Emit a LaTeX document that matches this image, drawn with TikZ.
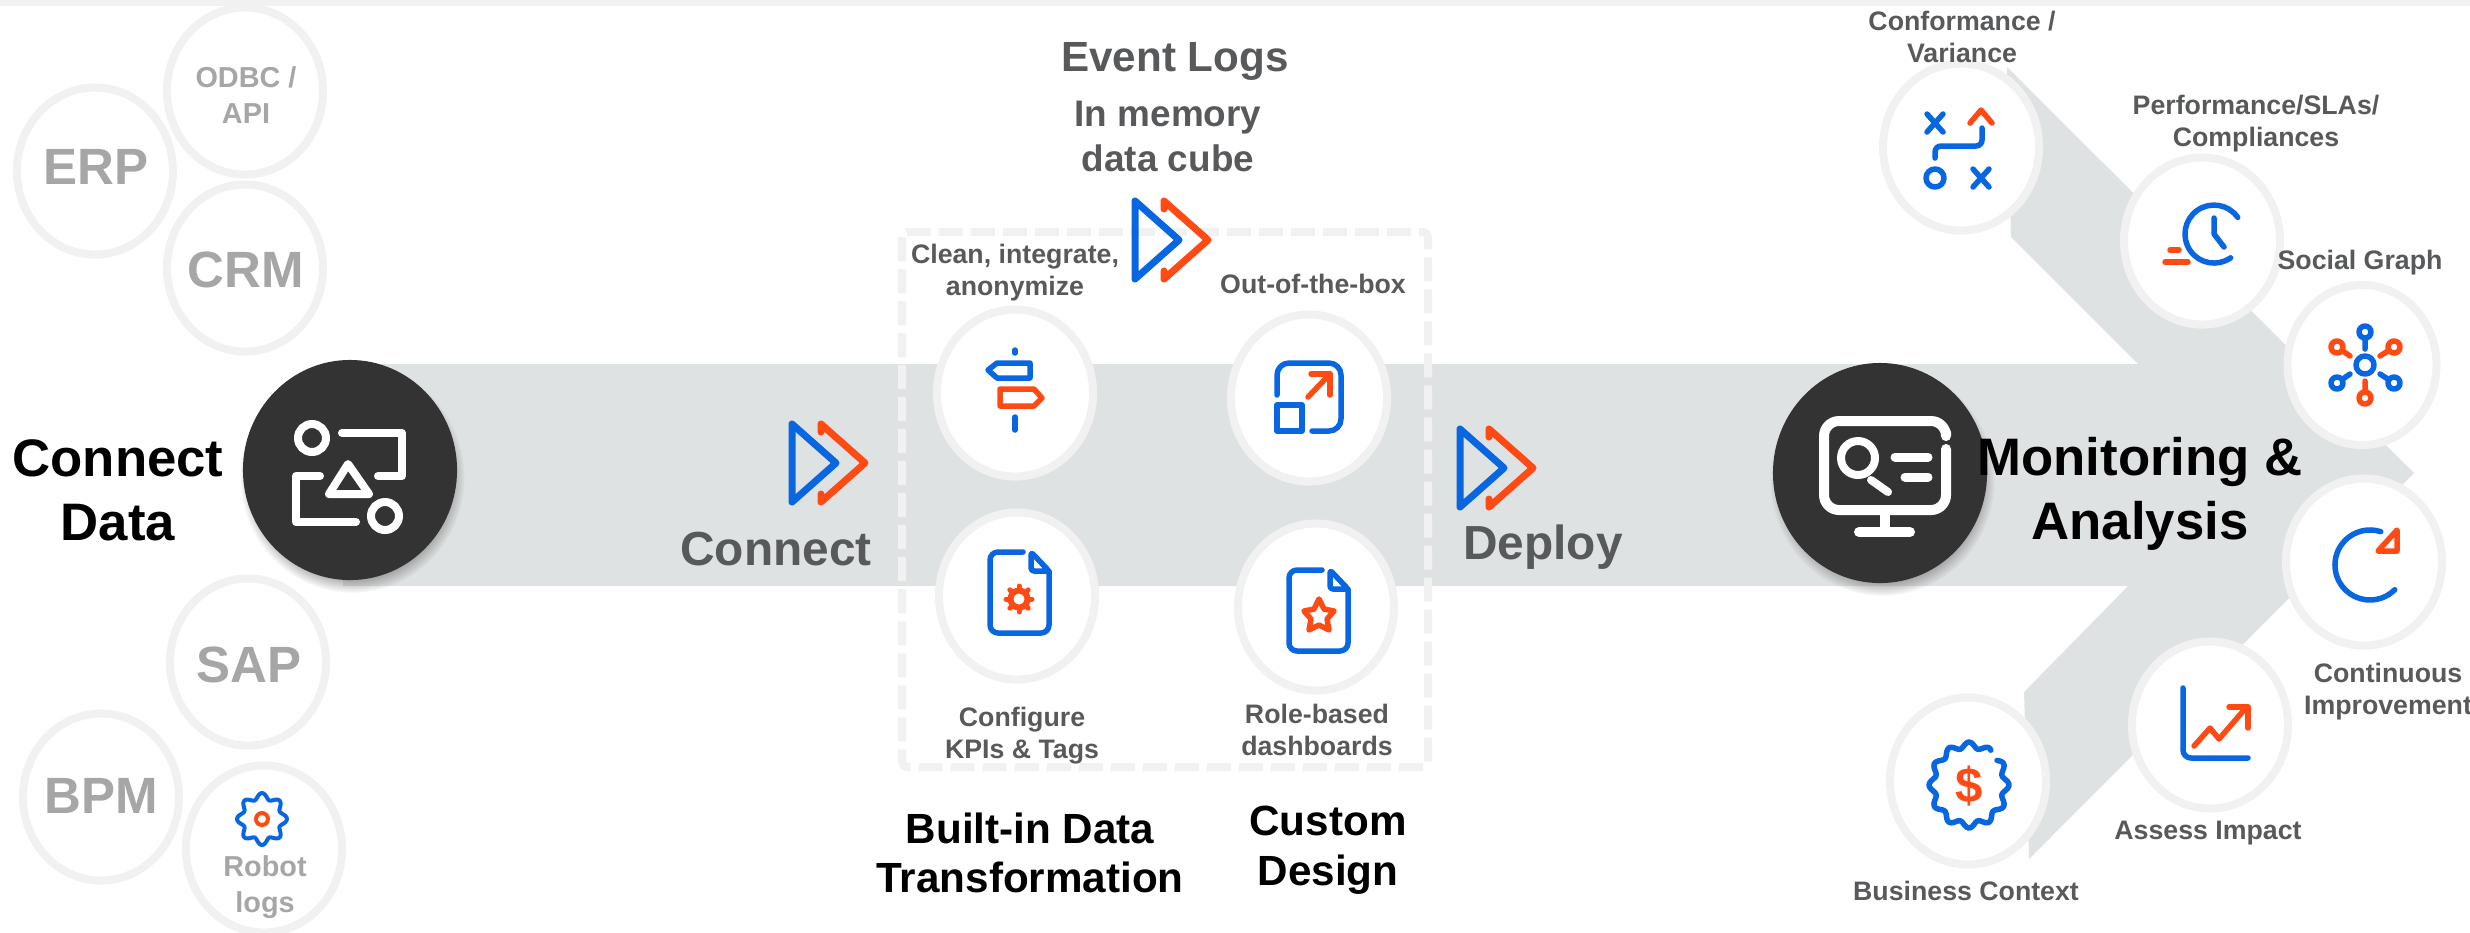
\documentclass[tikz,border=0pt]{standalone}
\usepackage{fontspec}
\setmainfont{Liberation Sans}
\usepackage{tikz}
\usetikzlibrary{calc}
\usetikzlibrary{shadows}
\usetikzlibrary{shapes.geometric}

\definecolor{bandgrey}{HTML}{DFE2E3}
\definecolor{ringgrey}{HTML}{F1F1F1}
\definecolor{darkdisc}{HTML}{333333}
\definecolor{textgrey}{HTML}{58595B}
\definecolor{fadedtext}{HTML}{A6A6A6}
\definecolor{iconblue}{HTML}{0866E0}
\definecolor{iconorange}{HTML}{FF4A14}

\tikzset{
    ring/.style={ellipse, draw=ringgrey, fill=white, line width=0.8mm, minimum width=1.56cm, minimum height=1.67cm, inner sep=0pt},
    disc/.style={ellipse, fill=darkdisc, minimum width=2.14cm, minimum height=2.2cm, inner sep=0pt,
        circular drop shadow={shadow xshift=0.02cm, shadow yshift=-0.07cm, shadow scale=1.05, opacity=0.75}},
    faded/.style={inner sep=0pt, text=fadedtext, font=\fontsize{14.5}{17}\selectfont\bfseries},
    fadedsmall/.style={inner sep=0pt, align=center, text=fadedtext, font=\fontsize{8.2}{10.4}\selectfont\bfseries},
    heading/.style={inner sep=0pt, align=center, text=black, font=\fontsize{15}{18.1}\selectfont\bfseries},
    subheading/.style={inner sep=0pt, align=center, text=black, font=\fontsize{12}{14.1}\selectfont\bfseries},
    greyhead/.style={inner sep=0pt, align=center, text=textgrey, font=\fontsize{13.6}{16}\selectfont\bfseries},
    caption/.style={inner sep=0pt, align=center, text=textgrey, font=\fontsize{7.6}{9.1}\selectfont\bfseries},
    blueline/.style={draw=iconblue, line width=0.55mm, line cap=round, line join=round},
    orangeline/.style={draw=iconorange, line width=0.55mm, line cap=round, line join=round},
    whiteline/.style={draw=white, line width=0.8mm, line cap=round, line join=round},
}

\begin{document}
\begin{tikzpicture}[x=0.01cm, y=-0.01cm]
    \useasboundingbox (0,0) rectangle (2470,932);
    \fill[ringgrey] (0,0) rectangle (2470,6);

    % arrow
    \fill[bandgrey] (343,364) -- (2138,364) -- (2011,237) -- (2007,67) -- (2414,473)
        -- (2029,859) -- (2024,692) -- (2128,586) -- (343,586) -- cycle;

    % box around the transformation step
    \draw[ringgrey, line width=0.8mm, rounded corners=0.5mm, dash pattern=on 0.24cm off 0.08cm] (902,232) rectangle (1428,767);

    % data sources
    \node[ring] (erp) at (95,171) {};
    \node[ring] (odbc) at (245,91) {};
    \node[ring] (crm) at (245,268) {};
    \node[ring] (sap) at (248,662) {};
    \node[ring] (bpm) at (101,797) {};
    \node[ring] (robot) at (264,849) {};
    \node[faded] (erplabel) at (96,167) {ERP};
    \node[fadedsmall] (odbclabel) at (246,95) {ODBC /\\API};
    \node[faded] (crmlabel) at (246,270) {CRM};
    \node[faded] (saplabel) at (249,665) {SAP};
    \node[faded] (bpmlabel) at (101,796) {BPM};
    \node[fadedsmall] (robotlabel) at (265,887) {Robot\\logs};
    \draw[blueline, line width=0.4mm] plot[domain=0:360, samples=97, smooth] ({262+(22+3*cos(8*\x))*cos(\x)},{819+(23+3*cos(8*\x))*sin(\x)});
    \draw[orangeline, line width=0.4mm] (262,819) circle (6);

    % step rings
    \node[ring] (clean) at (1015,393) {};
    \node[ring] (outbox) at (1309,398) {};
    \node[ring] (kpis) at (1017,596) {};
    \node[ring] (roles) at (1316,607) {};

    % signpost
    \draw[blueline] (1015,350) -- (1015,353);
    \draw[blueline] (1015,417) -- (1015,430);
    \draw[blueline] (988,370) -- (997,363) -- (1030,363) -- (1030,378) -- (997,378) -- cycle;
    \draw[orangeline] (1000,389) -- (1034,389) -- (1042,398) -- (1034,406) -- (1000,406) -- cycle;

    % expand
    \draw[blueline, rounded corners=1.2mm] (1277,395) -- (1277,363) -- (1341,363) -- (1341,431) -- (1312,431);
    \draw[blueline] (1277,405) rectangle (1302,431);
    \draw[orangeline] (1308,397) -- (1330,374);
    \draw[orangeline] (1311,374) -- (1330,374) -- (1330,395);

    % page with gear
    \draw[blueline, rounded corners=0.8mm] (1023,552) -- (990,552) -- (990,633) -- (1049,633) -- (1049,571);
    \draw[blueline, rounded corners=0.3mm] (1031,552) -- (1049,571) -- (1031,571) -- cycle;
    \draw[orangeline, line width=0.6mm] (1019,599) circle (8.5);
    \foreach \a in {0,45,...,315}
        \draw[orangeline, line width=0.5mm] ($(1019,599)+(\a:10)$) -- ($(1019,599)+(\a:13)$);

    % page with star
    \begin{scope}[shift={(299,18)}]
        \draw[blueline, rounded corners=0.8mm] (1023,552) -- (990,552) -- (990,633) -- (1049,633) -- (1049,571);
        \draw[blueline, rounded corners=0.3mm] (1031,552) -- (1049,571) -- (1031,571) -- cycle;
    \end{scope}
    \draw[orangeline] (1319,599) -- (1324,609) -- (1334,611) -- (1327,619) -- (1329,630) -- (1319,625)
        -- (1309,630) -- (1311,619) -- (1304,611) -- (1314,609) -- cycle;

    % chevrons
    \foreach \cx/\cy in {792/424,1460/429,1135/201} {
        \draw[blueline, line width=0.7mm] (\cx,\cy) -- ++(0,78) -- ++(44,-39) -- cycle;
        \draw[orangeline, line width=0.7mm] (\cx+29,\cy+8) -- ++(0,-8) -- ++(44,39) -- ++(-44,39) -- ++(0,-8);
    }

    % dark discs
    \node[disc] (connectdisc) at (350,470) {};
    \node[disc] (monitordisc) at (1880,473) {};

    % connect icon
    \draw[whiteline] (312,438) circle (14);
    \draw[whiteline] (385,516) circle (14);
    \draw[whiteline] (342,433) -- (402,433) -- (402,476) -- (378,476);
    \draw[whiteline] (320,476) -- (296,476) -- (296,522) -- (356,522);
    \draw[whiteline] (348,464) -- (369,494) -- (329,494) -- cycle;

    % monitor icon
    \draw[whiteline, line width=1mm, rounded corners=1.5mm] (1946,449) -- (1946,510) -- (1824,510) -- (1824,421) -- (1946,421) -- (1946,432);
    \draw[whiteline, line width=1mm] (1885,515) -- (1885,531);
    \draw[whiteline, line width=1mm] (1859,532) -- (1910,532);
    \draw[whiteline] (1858,458) circle (17);
    \draw[whiteline] (1871,480) -- (1888,492);
    \draw[whiteline, line width=0.9mm] (1895,457) -- (1928,457);
    \draw[whiteline, line width=0.9mm] (1905,477) -- (1928,477);

    % analysis rings
    \node[ring] (conf) at (1961,147) {};
    \node[ring] (perf) at (2202,241) {};
    \node[ring, minimum width=1.49cm, minimum height=1.6cm] (social) at (2362,365) {};
    \node[ring] (improve) at (2364,562) {};
    \node[ring] (assess) at (2210,725) {};
    \node[ring] (context) at (1968,781) {};

    % route plan
    \draw[blueline] (1927,114) -- (1943,132);
    \draw[blueline] (1943,114) -- (1927,132);
    \draw[blueline] (1973,169) -- (1989,187);
    \draw[blueline] (1989,169) -- (1973,187);
    \draw[blueline] (1935,178) circle (9);
    \draw[orangeline] (1970,123) -- (1981,110) -- (1992,123);
    \draw[blueline, rounded corners=0.6mm] (1982,128) -- (1982,146) -- (1935,146) -- (1935,158);

    % clock
    \draw[blueline] (2230.6,257.8) arc[start angle=55, end angle=325, radius=29];
    \draw[blueline] (2214,218) -- (2214,234) -- (2224,247);
    \draw[orangeline] (2170,250) -- (2179,250);
    \draw[orangeline] (2165,262) -- (2188,262);

    % social graph
    \draw[blueline] (2365,365) circle (9);
    \foreach \sx/\sy/\ex/\ey/\st in {2365/332/2365/349/blueline, 2337/347/2350/356/orangeline, 2394/347/2380/356/orangeline, 2337/383/2350/374/blueline, 2394/383/2380/374/blueline, 2365/398/2365/381/orangeline} {
        \draw[\st] (\sx,\sy) circle (6);
        \draw[\st] ($(\sx,\sy)!0.45!(\ex,\ey)$) -- (\ex,\ey);
    }

    % improvement
    \draw[blueline] (2394.7,589.7) arc[start angle=45, end angle=288, radius=35];
    \draw[orangeline] (2397,530) -- (2397,551) -- (2378,551) -- cycle;

    % impact chart
    \draw[blueline, rounded corners=0.8mm] (2183,688) -- (2183,758) -- (2248,758);
    \draw[orangeline] (2194,746) -- (2210,728) -- (2219,739) -- (2244,710);
    \draw[orangeline] (2229,707) -- (2248,707) -- (2248,728);

    % business badge
    \draw[blueline] plot[domain=-39:304, samples=120, smooth] ({1969+(37+3*cos(12*\x))*cos(\x)},{785+(40+3*cos(12*\x))*sin(\x)});
    \node[inner sep=0pt, text=iconorange, font=\fontsize{14}{14}\selectfont\bfseries] (dollar) at (1969,786) {\$};

    % headings
    \node[heading] (connectdata) at (118,490) {Connect\\Data};
    \node[heading] (monitoring) at (2140,494) {Monitoring \&\\Analysis};
    \node[greyhead] (connect) at (776,549) {Connect};
    \node[greyhead] (deploy) at (1543,547) {Deploy};
    \node[greyhead, font=\fontsize{12}{14}\selectfont\bfseries] (eventlogs) at (1175,61) {Event Logs};
    \node[greyhead, font=\fontsize{10.5}{12.8}\selectfont\bfseries] (memory) at (1168,136) {In memory\\data cube};
    \node[subheading] (builtin) at (1030,853) {Built-in Data\\Transformation};
    \node[subheading] (custom) at (1328,850) {Custom\\Design};

    % captions
    \node[caption] (cleanlabel) at (1015,273) {Clean, integrate,\\anonymize};
    \node[caption] (outlabel) at (1313,284) {Out-of-the-box};
    \node[caption] (kpilabel) at (1022,736) {Configure\\KPIs \& Tags};
    \node[caption] (rolelabel) at (1317,730) {Role-based\\dashboards};
    \node[caption] (conflabel) at (1962,37) {Conformance /\\Variance};
    \node[caption] (perflabel) at (2256,124) {Performance/SLAs/\\Compliances};
    \node[caption] (sociallabel) at (2360,263) {Social Graph};
    \node[caption] (improvelabel) at (2388,692) {Continuous\\Improvement};
    \node[caption] (assesslabel) at (2208,833) {Assess Impact};
    \node[caption] (contextlabel) at (1966,891) {Business Context};
\end{tikzpicture}
\end{document}
